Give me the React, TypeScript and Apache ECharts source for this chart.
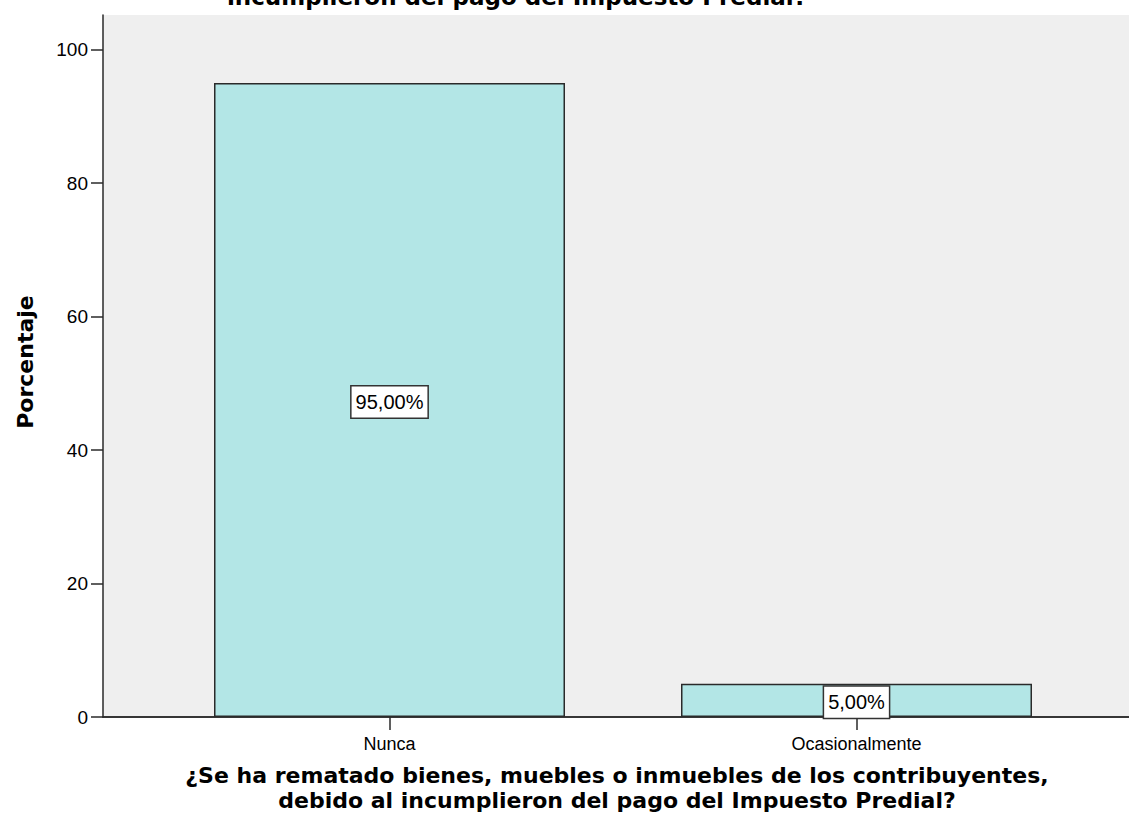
import React, { useEffect, useRef } from "react";
import * as echarts from "echarts";

const categories = ["Nunca", "Ocasionalmente"];
const percentValues = [95, 5];
const valueLabels = ["95,00%", "5,00%"];
const yTicks = [0, 20, 40, 60, 80, 100];
const titleText = "incumplieron del pago del Impuesto Predial?";
const xAxisTitleLines = [
  "¿Se ha rematado bienes, muebles o inmuebles de los contribuyentes,",
  "debido al incumplieron del pago del Impuesto Predial?",
];
const yAxisTitle = "Porcentaje";

const Y_MAX = 105.2;
const BOLD_FONT = "'DejaVu Sans', 'Noto Sans', sans-serif";
const PLAIN_FONT = "'Liberation Sans', Arial, sans-serif";
const LINE = "#2a2a2a";

export default function App() {
  const ref = useRef<HTMLDivElement>(null);

  useEffect(() => {
    if (!ref.current) return;
    const chart = echarts.init(ref.current, null, { renderer: "svg" });
    const option = {
      animation: false,
      backgroundColor: "#ffffff",
      graphic: [
        {
          type: "text",
          x: 517,
          y: -3,
          z: 10,
          style: {
            text: titleText,
            font: `bold 23px ${BOLD_FONT}`,
            fill: "#000",
            textAlign: "center",
            textVerticalAlign: "middle",
          },
        },
        {
          type: "text",
          x: 617,
          y: 775,
          style: {
            text: xAxisTitleLines[0],
            font: `bold 22px ${BOLD_FONT}`,
            fill: "#000",
            textAlign: "center",
            textVerticalAlign: "middle",
          },
        },
        {
          type: "text",
          x: 617,
          y: 800,
          style: {
            text: xAxisTitleLines[1],
            font: `bold 22px ${BOLD_FONT}`,
            fill: "#000",
            textAlign: "center",
            textVerticalAlign: "middle",
          },
        },
        {
          type: "text",
          x: 25,
          y: 362,
          rotation: Math.PI / 2,
          style: {
            text: yAxisTitle,
            font: `bold 22px ${BOLD_FONT}`,
            fill: "#000",
            textAlign: "center",
            textVerticalAlign: "middle",
          },
        },
      ],
      grid: [
        {
          left: 103,
          right: 0,
          top: 15,
          bottom: 111,
          show: true,
          backgroundColor: "#efefef",
          borderWidth: 0,
        },
        {
          left: 156,
          right: 39,
          top: 15,
          bottom: 111,
        },
      ],
      xAxis: [
        {
          type: "value",
          gridIndex: 0,
          position: "top",
          min: 0,
          max: 1,
          axisLine: { show: true, lineStyle: { color: LINE, width: 1.5 } },
          axisTick: { show: false },
          axisLabel: { show: false },
          splitLine: { show: false },
        },
        {
          type: "category",
          gridIndex: 1,
          data: categories,
          axisLine: { show: false },
          axisTick: {
            show: true,
            alignWithLabel: true,
            length: 13,
            lineStyle: { color: LINE, width: 1.5 },
          },
          axisLabel: {
            show: true,
            color: "#000",
            fontFamily: PLAIN_FONT,
            fontSize: 18,
            margin: 18,
          },
          splitLine: { show: false },
        },
        {
          type: "value",
          gridIndex: 0,
          position: "bottom",
          min: 0,
          max: 1,
          axisLine: { show: true, lineStyle: { color: LINE, width: 1.5 } },
          axisTick: { show: false },
          axisLabel: { show: false },
          splitLine: { show: false },
        },
      ],
      yAxis: [
        {
          type: "value",
          gridIndex: 0,
          min: 0,
          max: Y_MAX,
          axisLine: { show: true, lineStyle: { color: LINE, width: 1.5 } },
          axisTick: {
            show: true,
            length: 12,
            lineStyle: { color: LINE, width: 1.5 },
            customValues: yTicks,
          },
          axisLabel: {
            color: "#000",
            fontFamily: PLAIN_FONT,
            fontSize: 19,
            margin: 15,
            customValues: yTicks,
          },
          splitLine: { show: false },
        },
        {
          type: "value",
          gridIndex: 1,
          min: 0,
          max: Y_MAX,
          show: false,
          splitLine: { show: false },
        },
      ],
      series: [
        {
          type: "bar",
          xAxisIndex: 1,
          yAxisIndex: 1,
          data: percentValues,
          barWidth: 351,
          itemStyle: {
            color: "#b3e6e6",
            borderColor: LINE,
            borderWidth: 1.5,
          },
          label: {
            show: true,
            position: "inside",
            offset: [0, 2],
            formatter: (p: any) => valueLabels[p.dataIndex],
            color: "#000",
            fontFamily: PLAIN_FONT,
            fontSize: 20,
            lineHeight: 22,
            backgroundColor: "#ffffff",
            borderColor: "#333",
            borderWidth: 1.5,
            padding: [5, 4, 4, 4],
          },
        },
      ],
    };
    chart.setOption(option as any);
    return () => chart.dispose();
  }, []);

  return (
    <div
      ref={ref}
      style={{ position: "absolute", left: 0, top: 0, width: 1129, height: 828 }}
    />
  );
}
